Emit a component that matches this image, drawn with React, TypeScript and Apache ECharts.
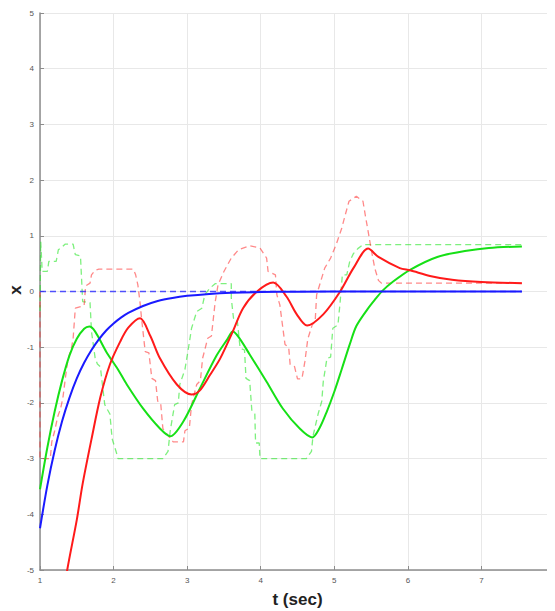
import React, { useEffect, useRef } from "react";
import * as echarts from "echarts";

// [t, x] points
const blueSolid: number[][] = [
  [1.0, -4.25], [1.1, -3.48], [1.2, -2.85], [1.3, -2.33], [1.4, -1.91], [1.5, -1.56],
  [1.6, -1.28], [1.7, -1.05], [1.8, -0.86], [1.9, -0.7], [2.0, -0.575], [2.1, -0.47],
  [2.2, -0.385], [2.4, -0.26], [2.6, -0.17], [2.8, -0.115], [3.0, -0.078], [3.3, -0.043],
  [3.6, -0.023], [4.0, -0.01], [4.5, -0.004], [5.5, 0], [7.55, 0],
];

const blueDashed: number[][] = [[1.0, 0], [7.55, 0]];

const greenSolid: number[][] = [
  [1.0, -3.55], [1.1, -2.8], [1.2, -2.15], [1.3, -1.6], [1.4, -1.15], [1.5, -0.85],
  [1.6, -0.67], [1.67, -0.63], [1.75, -0.72], [1.9, -1.08], [2.06, -1.4], [2.18, -1.67],
  [2.4, -2.1], [2.63, -2.46], [2.77, -2.6], [2.95, -2.33], [3.17, -1.75], [3.4, -1.15],
  [3.55, -0.85], [3.62, -0.72], [3.7, -0.82], [3.85, -1.13], [4.08, -1.62], [4.3, -2.1],
  [4.53, -2.46], [4.7, -2.62], [4.8, -2.45], [4.9, -2.15], [5.0, -1.8], [5.1, -1.4],
  [5.21, -0.95], [5.3, -0.62], [5.45, -0.32], [5.55, -0.15], [5.66, 0.02], [5.8, 0.18],
  [6.03, 0.39], [6.4, 0.62], [6.8, 0.73], [7.1, 0.78], [7.55, 0.81],
];

const redSolid: number[][] = [
  [1.2, -6.4], [1.37, -5.0], [1.5, -4.1], [1.58, -3.45], [1.7, -2.65], [1.82, -1.9],
  [1.95, -1.31], [2.09, -0.9], [2.2, -0.65], [2.36, -0.48], [2.5, -0.8], [2.63, -1.2],
  [2.86, -1.67], [3.06, -1.85], [3.17, -1.78], [3.31, -1.5], [3.45, -1.2], [3.62, -0.72],
  [3.76, -0.3], [3.95, 0.0], [4.17, 0.16], [4.35, -0.09], [4.49, -0.41], [4.63, -0.61],
  [4.85, -0.41], [5.08, 0.0], [5.26, 0.42], [5.46, 0.77], [5.6, 0.62], [5.89, 0.42],
  [6.03, 0.38], [6.3, 0.28], [6.6, 0.21], [7.0, 0.17], [7.55, 0.15],
];

const redDashed: number[][] = [
  [1.0, 0], [1.0, -3.0], [1.14, -3.0], [1.16, -2.7], [1.2, -2.5], [1.24, -2.25],
  [1.28, -2.1], [1.31, -1.92], [1.35, -1.5], [1.38, -1.22], [1.43, -1.0], [1.45, -0.85],
  [1.48, -0.3], [1.6, -0.25], [1.62, 0.1], [1.68, 0.15], [1.7, 0.3], [1.75, 0.38],
  [1.8, 0.4], [2.27, 0.4], [2.3, 0.3], [2.33, 0.12], [2.36, -0.2], [2.38, -0.48],
  [2.43, -1.08], [2.48, -1.1], [2.52, -1.56], [2.57, -1.6], [2.6, -1.97], [2.64, -2.0],
  [2.67, -2.46], [2.75, -2.6], [2.81, -2.7], [2.95, -2.7], [2.97, -2.5], [3.03, -2.45],
  [3.06, -2.03], [3.13, -1.67], [3.18, -1.6], [3.21, -1.2], [3.28, -0.84], [3.33, -0.8],
  [3.38, -0.2], [3.42, 0.12], [3.5, 0.36], [3.6, 0.6], [3.7, 0.75], [3.85, 0.82],
  [3.99, 0.78], [4.08, 0.6], [4.1, 0.36], [4.2, 0.3], [4.22, -0.06], [4.26, -0.24],
  [4.33, -0.95], [4.38, -1.0], [4.4, -1.31], [4.46, -1.35], [4.5, -1.57], [4.56, -1.57],
  [4.6, -1.26], [4.64, -0.85], [4.7, -0.6], [4.74, -0.54], [4.76, -0.06], [4.87, 0.42],
  [4.95, 0.6], [5.03, 0.86], [5.1, 1.13], [5.15, 1.38], [5.2, 1.62], [5.3, 1.71],
  [5.39, 1.62], [5.42, 1.38], [5.46, 1.08], [5.5, 0.77], [5.55, 0.42], [5.6, 0.2],
  [5.64, 0.15], [7.55, 0.15],
];

const greenDashed: number[][] = [
  [1.0, -0.35], [1.01, 0.9], [1.03, 0.36], [1.1, 0.36], [1.12, 0.54], [1.22, 0.54],
  [1.25, 0.75], [1.3, 0.8], [1.34, 0.85], [1.45, 0.85], [1.48, 0.66], [1.55, 0.64],
  [1.58, -0.18], [1.68, -0.2], [1.7, -0.72], [1.75, -1.2], [1.78, -1.3], [1.82, -1.35],
  [1.88, -2.03], [1.95, -2.2], [1.98, -2.64], [2.04, -2.9], [2.06, -3.0], [2.67, -3.0],
  [2.74, -2.87], [2.77, -2.5], [2.83, -2.03], [2.88, -2.0], [2.9, -1.67], [2.97, -1.4],
  [3.01, -1.08], [3.06, -0.66], [3.13, -0.36], [3.2, -0.3], [3.24, -0.06], [3.31, 0.06],
  [3.38, 0.14], [3.6, 0.14], [3.6, -0.12], [3.63, -0.48], [3.68, -0.5], [3.72, -1.02],
  [3.78, -1.05], [3.8, -1.56], [3.85, -1.6], [3.88, -2.15], [3.92, -2.2], [3.93, -2.72],
  [3.98, -2.72], [3.99, -3.0], [4.62, -3.0], [4.69, -2.87], [4.71, -2.6], [4.78, -2.2],
  [4.83, -1.97], [4.85, -1.62], [4.9, -1.2], [4.95, -1.18], [4.98, -0.66], [5.05, -0.6],
  [5.08, -0.18], [5.11, 0.3], [5.17, 0.3], [5.21, 0.54], [5.26, 0.68], [5.32, 0.77],
  [5.39, 0.84], [7.55, 0.84],
];

const xTicks = [1, 2, 3, 4, 5, 6, 7, 8];
const yTicks = [-5, -4, -3, -2, -1, 0, 1, 2, 3, 4, 5];
const xAxisTitle = "t (sec)";
const yAxisTitle = "x";

export default function App() {
  const ref = useRef<HTMLDivElement>(null);
  useEffect(() => {
    if (!ref.current) return;
    const chart = echarts.init(ref.current, undefined, { renderer: "svg" });
    const font = "Liberation Sans, Arial, sans-serif";
    const dashed = (data: number[][], color: string) => ({
      type: "line",
      data,
      showSymbol: false,
      symbol: "none",
      lineStyle: { color, width: 1.3, type: [6, 4] },
      z: 2,
    });
    const solid = (data: number[][], color: string, z: number) => ({
      type: "line",
      data,
      showSymbol: false,
      symbol: "none",
      smooth: 0.3,
      lineStyle: { color, width: 2 },
      z,
    });
    chart.setOption({
      animation: false,
      backgroundColor: "#ffffff",
      grid: {
        left: 40, right: 0, top: 13, bottom: 41,
        containLabel: false, outerBoundsMode: "none",
      },
      graphic: [
        {
          type: "text",
          x: 15,
          y: 290,
          rotation: Math.PI / 2,
          style: {
            text: yAxisTitle,
            font: `bold 17px ${font}`,
            fill: "#222",
            align: "center",
            verticalAlign: "middle",
          },
        },
      ],
      xAxis: {
        type: "value",
        min: xTicks[0],
        max: xTicks[xTicks.length - 1],
        interval: 1,
        name: xAxisTitle,
        nameLocation: "middle",
        nameGap: 21,
        nameTextStyle: { fontFamily: font, fontWeight: "bold", fontSize: 17, color: "#222" },
        axisLine: { show: true, onZero: false, lineStyle: { color: "#8c8c8c", width: 1.5 } },
        axisTick: { show: true, inside: true, length: 4, lineStyle: { color: "#8c8c8c" } },
        axisLabel: { fontFamily: font, fontSize: 8, color: "#555", margin: 6, showMaxLabel: true },
        splitLine: { show: true, lineStyle: { color: "#e8e8e8", width: 1 } },
      },
      yAxis: {
        type: "value",
        min: yTicks[0],
        max: yTicks[yTicks.length - 1],
        interval: 1,
        axisLine: { show: true, onZero: false, lineStyle: { color: "#8c8c8c", width: 1.5 } },
        axisTick: { show: true, inside: true, length: 4, lineStyle: { color: "#8c8c8c" } },
        axisLabel: { fontFamily: font, fontSize: 8, color: "#555", margin: 6 },
        splitLine: { show: true, lineStyle: { color: "#e8e8e8", width: 1 } },
      },
      series: [
        dashed(greenDashed, "rgba(40,230,40,0.6)"),
        dashed(redDashed, "rgba(255,40,40,0.55)"),
        dashed(blueDashed, "rgba(40,40,255,0.8)"),
        solid(greenSolid, "#16e016", 3),
        solid(redSolid, "#ff1a1a", 4),
        solid(blueSolid, "#1a1aff", 5),
      ],
    });
    return () => chart.dispose();
  }, []);
  return <div ref={ref} style={{ width: 555, height: 611, marginLeft: -8, marginTop: -8 }} />;
}
